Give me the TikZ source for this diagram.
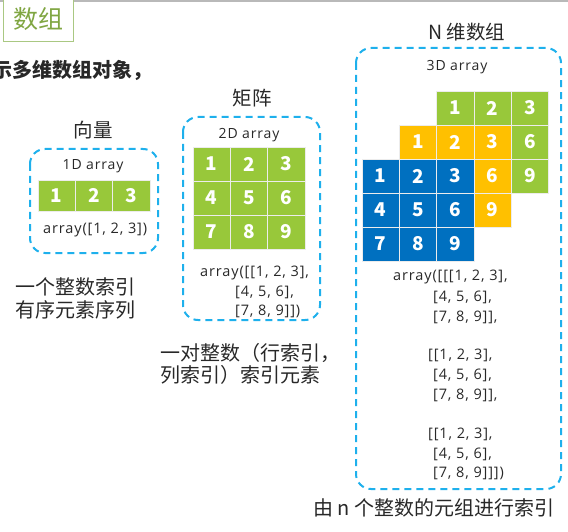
\documentclass[tikz,border=0pt]{standalone}
\usepackage{fontspec}
\setmainfont{Noto Sans CJK SC}
\newfontfamily\latinf[LetterSpace=6]{Open Sans}
\definecolor{dblue}{RGB}{30,176,236}
\definecolor{cgreen}{RGB}{152,200,58}
\definecolor{corange}{RGB}{255,192,0}
\definecolor{cblue}{RGB}{0,112,192}
\definecolor{tgreen}{RGB}{128,166,66}
\definecolor{bgreen}{RGB}{170,200,130}
\definecolor{txt}{RGB}{40,40,40}
\begin{document}
\begin{tikzpicture}[x=1pt,y=-1pt,
  dbox/.style={draw=dblue,line width=2pt,dash pattern=on 7pt off 5pt,rounded corners=15pt},
  cell/.style={minimum width=37.3pt,minimum height=34pt,inner sep=0pt,draw=white!85!gray,line width=0.8pt,text=white,font=\fontsize{19}{19}\selectfont\bfseries},
  gcell/.style={cell,fill=cgreen},
  ocell/.style={cell,fill=corange},
  bcell/.style={cell,fill=cblue},
  lbl/.style={inner sep=0pt,text=txt,font=\latinf\fontsize{14}{14}\selectfont},
  code/.style={inner sep=0pt,anchor=west,text=txt,font=\latinf\fontsize{14.5}{14}\selectfont},
  head/.style={inner sep=0pt,text=txt,font=\fontsize{19.5}{20}\selectfont},
  desc/.style={inner sep=0pt,anchor=west,text=txt,font=\fontsize{20}{20}\selectfont}]
\useasboundingbox (0,0) rectangle (568,532);
\clip (0,0) rectangle (568,532);
% top
\draw[gray!55,line width=2pt] (0,1) -- (568,1);
\node[draw=bgreen,line width=1pt,fill=white,minimum width=70pt,minimum height=44pt,inner sep=0pt,anchor=south west,text=tgreen,font=\fontsize{25}{25}\selectfont] (title) at (3,42) {数组};
\node[inner sep=0pt,anchor=west,text=txt,font=\fontsize{20}{20}\selectfont\bfseries] (intro) at (-8,70) {示多维数组对象，};
% 1D
\node[head] (h1) at (93,130) {向量};
\draw[dbox] (30,149) rectangle (158,253);
\node[lbl] (l1) at (93,166) {1D array};
\foreach \i in {1,2,3} {
  \node[gcell,minimum height=31pt] (a\i) at ({38+37.3*(\i-0.5)},195.5) {\i};
}
\node[code] (c1) at (43,230) {array([1, 2, 3])};
\node[desc] (d1a) at (15,287) {一个整数索引};
\node[desc] (d1b) at (15,310) {有序元素序列};
% 2D
\node[head] (h2) at (252,98) {矩阵};
\draw[dbox] (183,117) rectangle (320,320);
\node[lbl] (l2) at (249,135) {2D array};
\foreach \r in {1,2,3} {
  \foreach \c in {1,2,3} {
    \pgfmathtruncatemacro{\v}{(\r-1)*3+\c}
    \node[gcell] (m\r\c) at ({193+37.3*(\c-0.5)},{147+34*(\r-0.5)}) {\v};
  }
}
\node[code] (c2a) at (200,273) {array([[1, 2, 3],};
\node[code] (c2b) at (235,292) {[4, 5, 6],};
\node[code] (c2c) at (235,311) {[7, 8, 9]])};
\node[desc] (d2a) at (160,353) {一对整数（行索引，};
\node[desc] (d2b) at (160,375) {列索引）索引元素};
% 3D
\node[head] (h3) at (467,32) {N 维数组};
\draw[dbox] (356,48) rectangle (561,489);
\node[lbl] (l3) at (457,67) {3D array};
% green layer
\foreach \c in {1,2,3} {
  \node[gcell] (g1\c) at ({436.6+37.3*(\c-0.5)},108) {\c};
}
\node[gcell] (g23) at ({436.6+37.3*2.5},142) {6};
\node[gcell] (g33) at ({436.6+37.3*2.5},176) {9};
% orange layer
\foreach \c in {1,2,3} {
  \node[ocell] (o1\c) at ({399.3+37.3*(\c-0.5)},142) {\c};
}
\node[ocell] (o23) at ({399.3+37.3*2.5},176) {6};
\node[ocell] (o33) at ({399.3+37.3*2.5},210) {9};
% blue layer
\foreach \r in {1,2,3} {
  \foreach \c in {1,2,3} {
    \pgfmathtruncatemacro{\v}{(\r-1)*3+\c}
    \node[bcell] (b\r\c) at ({362+37.3*(\c-0.5)},{159+34*(\r-0.5)}) {\v};
  }
}
\node[code] (c3a) at (393,277) {array([[[1, 2, 3],};
\node[code] (c3b) at (433,297) {[4, 5, 6],};
\node[code] (c3c) at (433,317) {[7, 8, 9]],};
\node[code] (c3d) at (428,355) {[[1, 2, 3],};
\node[code] (c3e) at (433,375) {[4, 5, 6],};
\node[code] (c3f) at (433,395) {[7, 8, 9]],};
\node[code] (c3g) at (428,434) {[[1, 2, 3],};
\node[code] (c3h) at (433,454) {[4, 5, 6],};
\node[code] (c3i) at (433,473) {[7, 8, 9]]])};
\node[desc] (d3) at (313,508) {由 n 个整数的元组进行索引};
\end{tikzpicture}
\end{document}
